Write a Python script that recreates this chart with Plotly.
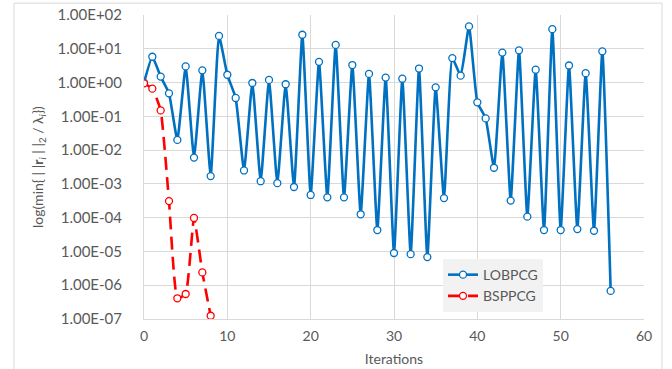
import plotly.graph_objects as go

iterations_lob = list(range(0, 57))
lobpcg = [1.0, 5.8, 1.5, 0.48, 0.02, 3.0, 0.006, 2.3, 0.0017, 24,
          1.7, 0.35, 0.0025, 0.97, 0.0012, 1.2, 0.00105, 0.89, 0.00081, 26,
          0.00047, 4.1, 0.0004, 13, 0.0004, 3.3, 0.000126, 1.8, 4.3e-5, 1.4,
          9e-6, 1.3, 8.3e-6, 2.6, 6.8e-6, 0.72, 3.8e-4, 5.3, 1.6, 46,
          0.26, 0.087, 0.003, 7.7, 3.2e-4, 9.0, 1.07e-4, 2.4, 4.3e-5, 38,
          4.3e-5, 3.2, 4.6e-5, 1.9, 4.1e-5, 8.4, 6.8e-7]

iterations_bsp = list(range(0, 9))
bsppcg = [0.95, 0.66, 0.15, 3.1e-4, 4.1e-7, 5.5e-7, 9.8e-5, 2.4e-6, 1.25e-7]

y_tickvals = [1e2, 1e1, 1e0, 1e-1, 1e-2, 1e-3, 1e-4, 1e-5, 1e-6, 1e-7]
y_ticktext = ["1.00E+02", "1.00E+01", "1.00E+00", "1.00E-01", "1.00E-02",
              "1.00E-03", "1.00E-04", "1.00E-05", "1.00E-06", "1.00E-07"]
x_tickvals = [0, 10, 20, 30, 40, 50, 60]

font_family = "Lato, 'Open Sans', sans-serif"
grey_text = "#595959"
grid = "#d9d9d9"

fig = go.Figure()
fig.add_trace(go.Scatter(
    x=iterations_lob, y=lobpcg, name="LOBPCG", mode="lines+markers",
    line=dict(color="#0070C0", width=2.6, shape="spline", smoothing=0.4),
    marker=dict(symbol="circle", size=7, color="white",
                line=dict(color="#0070C0", width=1.3)),
))
fig.add_trace(go.Scatter(
    x=iterations_bsp, y=bsppcg, name="BSPPCG", mode="lines+markers",
    line=dict(color="#FF0000", width=2.6, dash="13px,7px", shape="spline", smoothing=0.4),
    marker=dict(symbol="circle", size=7, color="white",
                line=dict(color="#FF0000", width=1.3)),
))

fig.update_layout(
    width=672, height=369,
    margin=dict(l=144, r=28, t=15, b=50, autoexpand=False),
    paper_bgcolor="white", plot_bgcolor="white",
    font=dict(family=font_family, size=13, color=grey_text),
    showlegend=True,
    legend=dict(x=0.598, y=0.11, xanchor="left", yanchor="middle",
                bgcolor="#f2f2f2", font=dict(size=14, color=grey_text),
                tracegroupgap=2, itemwidth=30),
    shapes=[dict(type="rect", xref="paper", yref="paper",
                 x0=-0.26, x1=1.036, y0=-0.3, y1=1.039,
                 line=dict(color="#d9d9d9", width=1), layer="below")],
    annotations=[dict(
        text="log(min{ | |<b>r</b><sub><i>i</i></sub> | |<sub>2</sub> / λ<sub><i>i</i></sub>})",
        xref="paper", yref="paper", x=-0.212, y=0.5, xanchor="center", yanchor="middle",
        textangle=-90, showarrow=False, font=dict(size=14, color=grey_text))],
)
fig.update_xaxes(
    range=[0, 60], tickvals=x_tickvals, showgrid=True, gridcolor=grid, gridwidth=1,
    showline=True, linecolor=grid, zeroline=False, automargin=False,
    ticks="outside", ticklen=4, tickcolor="rgba(0,0,0,0)",
    tickfont=dict(size=14, color=grey_text), ticklabeloverflow="allow",
    title=dict(text="Iterations", font=dict(size=14, color=grey_text), standoff=11),
)
fig.update_yaxes(
    type="log", range=[-7, 2], tickvals=y_tickvals, ticktext=y_ticktext,
    showgrid=True, gridcolor=grid, gridwidth=1, showline=True, linecolor=grid,
    zeroline=False, automargin=False, ticklabeloverflow="allow",
    ticks="outside", ticklen=18, tickcolor="rgba(0,0,0,0)",
    tickfont=dict(size=15, color=grey_text),
)

fig.write_html("out.html", config={"displayModeBar": False},
               post_script="document.body.style.margin='0px';")
